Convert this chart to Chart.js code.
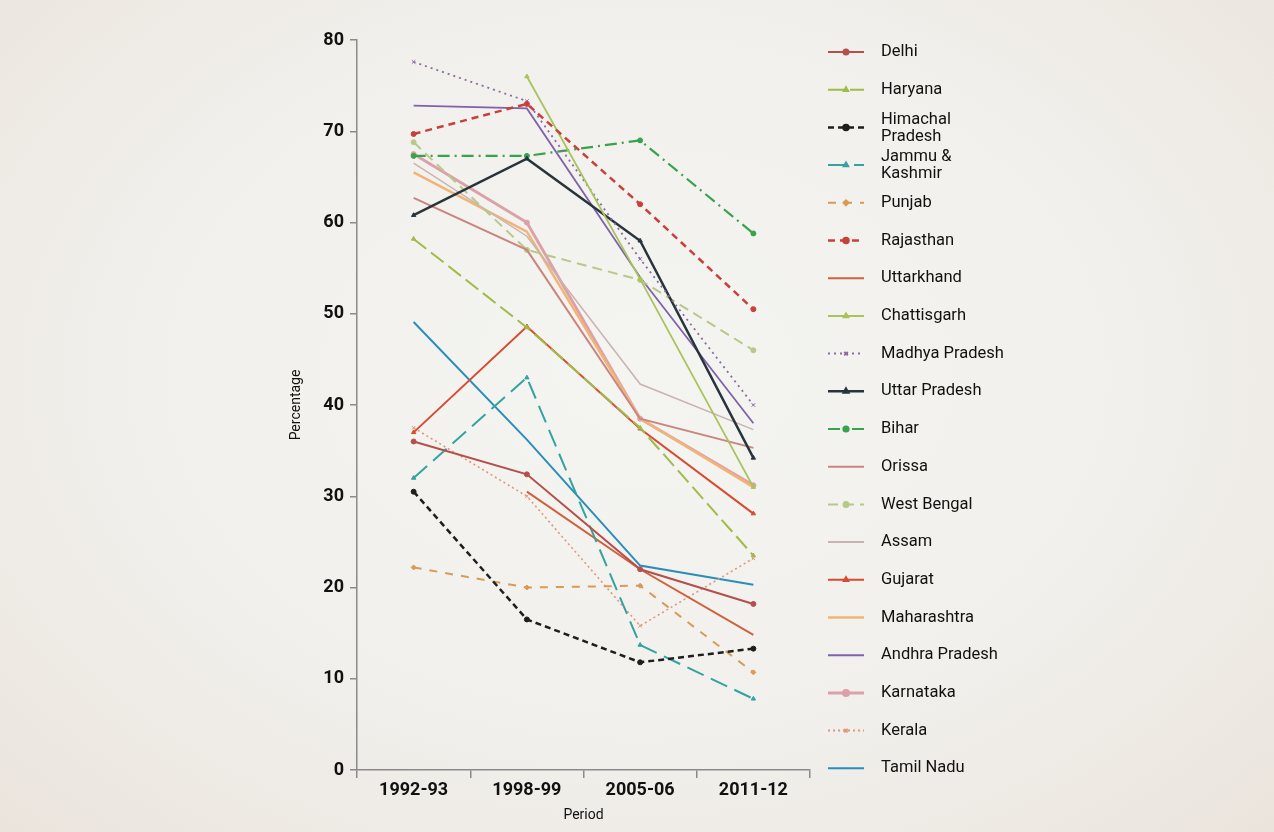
<!DOCTYPE html>
<html>
<head>
<meta charset="utf-8">
<script src="https://cdn.jsdelivr.net/npm/chart.js@4"></script>
<style>
	html,body{margin:0;padding:0;}
	body{
		width:1274px;height:832px;overflow:hidden;
		background:radial-gradient(ellipse at 50% 45%, #f4f4f1 0%, #f1f0ec 55%, #ebe4dd 100%);
	}
	#wrap{position:relative;width:1274px;height:832px;}
</style>
</head>
<body>
<div id="wrap"><canvas id="chart" width="1274" height="832"></canvas></div>
<script>
// periods on the x axis
const periods = ['1992-93', '1998-99', '2005-06', '2011-12'];
const yTicks = [0, 10, 20, 30, 40, 50, 60, 70, 80];

// one array per state
const delhi       = [36.0, 32.4, 22.0, 18.2];
const haryana     = [58.2, 48.5, 37.5, 23.5];
const himachal    = [30.5, 16.5, 11.8, 13.3];
const jammu       = [32.0, 43.0, 13.7, 7.8];
const punjab      = [22.2, 20.0, 20.2, 10.7];
const rajasthan   = [69.7, 73.0, 62.0, 50.5];
const uttarkhand  = [null, 30.5, 22.0, 14.8];
const chattisgarh = [null, 76.0, 53.8, 31.0];
const madhya      = [77.6, 73.3, 56.0, 40.0];
const uttar       = [60.8, 67.0, 58.0, 34.2];
const bihar       = [67.3, 67.3, 69.0, 58.8];
const orissa      = [62.7, 57.0, 38.5, 35.3];
const westBengal  = [68.8, 57.0, 53.7, 46.0];
const assam       = [66.5, 58.5, 42.3, 37.3];
const gujarat     = [37.0, 48.6, 37.4, 28.1];
const maharashtra = [65.5, 59.0, 38.5, 31.0];
const andhra      = [72.8, 72.5, 54.0, 38.0];
const karnataka   = [67.5, 60.0, 38.5, 31.2];
const kerala      = [37.5, 30.0, 15.8, 23.2];
const tamilNadu   = [49.1, 36.2, 22.4, 20.3];

const states = ['Delhi','Haryana','Himachal Pradesh','Jammu & Kashmir','Punjab','Rajasthan','Uttarkhand',
	'Chattisgarh','Madhya Pradesh','Uttar Pradesh','Bihar','Orissa','West Bengal','Assam','Gujarat',
	'Maharashtra','Andhra Pradesh','Karnataka','Kerala','Tamil Nadu'];
const values = [delhi,haryana,himachal,jammu,punjab,rajasthan,uttarkhand,chattisgarh,madhya,uttar,
	bihar,orissa,westBengal,assam,gujarat,maharashtra,andhra,karnataka,kerala,tamilNadu];

// look of each line: colour, dash, point style
const styles = [
	{c:'#b4504c', d:[],      p:'circle',   w:2},
	{c:'#9fbb48', d:[16,6],  p:'triangle', w:2},
	{c:'#1e1e1e', d:[6,4],   p:'circle',   w:2.5},
	{c:'#34a3a0', d:[18,8],  p:'triangle', w:2},
	{c:'#d99a55', d:[8,8],   p:'rectRot',  w:2},
	{c:'#c9403a', d:[7,5],   p:'circle',   w:2.5},
	{c:'#d0603e', d:[],      p:false,      w:2},
	{c:'#a9c35c', d:[],      p:'triangle', w:1.8},
	{c:'#8b6aa6', d:[2,4],   p:'crossRot', w:1.8},
	{c:'#28343c', d:[],      p:'triangle', w:2.5},
	{c:'#38a24c', d:[12,5,2,5], p:'circle', w:2.2},
	{c:'#c98580', d:[],      p:false,      w:2},
	{c:'#b7c98a', d:[10,6],  p:'circle',   w:2},
	{c:'#c9b4b0', d:[],      p:false,      w:1.5},
	{c:'#d84a30', d:[],      p:'triangle', w:2},
	{c:'#f1b476', d:[],      p:false,      w:2.5},
	{c:'#7f62aa', d:[],      p:false,      w:1.8},
	{c:'#dca1a8', d:[],      p:'circle',   w:3},
	{c:'#e09878', d:[2,3],   p:'crossRot', w:1.6},
	{c:'#2b8dba', d:[],      p:false,      w:2}
];

const datasets = states.map((s,i)=>({
	label:s,
	data:values[i],
	borderColor:styles[i].c,
	backgroundColor:styles[i].c,
	borderWidth:styles[i].w,
	borderDash:styles[i].d,
	pointStyle:styles[i].p || 'circle',
	pointRadius:styles[i].p ? 2.5 : 0,
	pointBorderWidth:1,
	tension:0,
	spanGaps:false
}));

// legend drawn by hand so the long names can wrap on two lines
const sideLegend = {
	id:'sideLegend',
	afterDraw(chart) {
		const ctx = chart.ctx;
		const x0 = 828, x1 = 864, tx = 881;
		ctx.save();
		chart.data.datasets.forEach((ds,i)=>{
			const y = 52 + i*37.7;
			ctx.strokeStyle = ds.borderColor;
			ctx.lineWidth = Math.max(2, ds.borderWidth);
			ctx.setLineDash(ds.borderDash);
			ctx.beginPath();
			ctx.moveTo(x0,y); ctx.lineTo(x1,y);
			ctx.stroke();
			ctx.setLineDash([]);
			if (ds.pointRadius > 0) {
				Chart.helpers.drawPoint(ctx, {pointStyle:ds.pointStyle, radius:2.5, borderWidth:1},
					(x0+x1)/2, y);
				ctx.fillStyle = ds.borderColor;
				ctx.fill();
			}
			ctx.fillStyle = '#111';
			ctx.font = '16.5px Roboto';
			ctx.textBaseline = 'middle';
			let words = ds.label.split(' ');
			if (ds.label.length > 14 && ds.label !== 'Madhya Pradesh') {
				ctx.fillText(words.slice(0,-1).join(' '), tx, y-8);
				ctx.fillText(words[words.length-1], tx, y+9);
			} else {
				ctx.fillText(ds.label, tx, y);
			}
		});
		ctx.restore();
	}
};

new Chart(document.getElementById('chart'), {
	type:'line',
	data:{labels:periods, datasets:datasets},
	plugins:[sideLegend],
	options:{
		responsive:false,
		animation:false,
		layout:{padding:{left:284, right:464, top:40, bottom:0}},
		plugins:{legend:{display:false}, tooltip:{enabled:false}},
		scales:{
			x:{
				offset:true,
				grid:{offset:true, drawOnChartArea:false, drawTicks:true, tickLength:8, color:'#8a8a8a', lineWidth:1.5},
				border:{color:'#8a8a8a', width:1.5},
				ticks:{font:{family:'Roboto', size:18, weight:'bold'}, color:'#111', padding:2},
				title:{display:true, text:'Period', font:{family:'Roboto', size:14}, color:'#111', padding:{top:2,bottom:8}},
				afterFit(scale){ scale.height = 62; }
			},
			y:{
				min:0, max:80,
				afterBuildTicks(scale){ scale.ticks = yTicks.map(v=>({value:v})); },
				grid:{drawOnChartArea:false, drawTicks:true, tickLength:7, color:'#8a8a8a', lineWidth:1.5},
				border:{color:'#8a8a8a', width:1.5},
				ticks:{font:{family:'Roboto', size:18, weight:'bold'}, color:'#111', padding:6},
				title:{display:true, text:'Percentage', font:{family:'Roboto', size:14}, color:'#111', padding:4},
				afterFit(scale){ scale.width = 73; }
			}
		}
	}
});
</script>
</body>
</html>
